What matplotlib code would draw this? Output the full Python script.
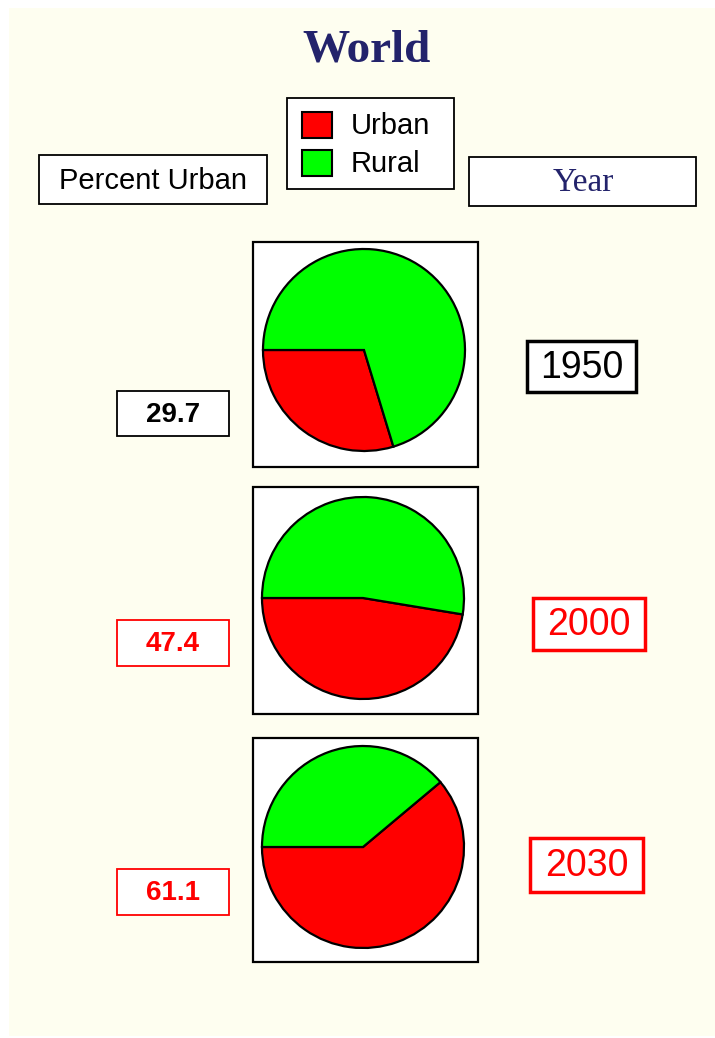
import matplotlib
matplotlib.use("Agg")
import matplotlib.pyplot as plt
from matplotlib.patches import Rectangle

# ---- data ----
years = ["1950", "2000", "2030"]
urban = [29.7, 47.4, 61.1]
rural = [70.3, 52.6, 38.9]
label_colors = ["black", "red", "red"]
slice_colors = ["#ff0000", "#00ff00"]
slice_labels = ["Urban", "Rural"]

W, H = 715, 1038
BG = "#fefef0"
NAVY = "#23236b"
SANS = "Liberation Sans"
SERIF = "Liberation Serif"

fig = plt.figure(figsize=(W / 100, H / 100), dpi=100)
fig.patch.set_facecolor("white")
ax = fig.add_axes([0, 0, 1, 1])
ax.axis("off")


def box(x0, y0, x1, y1, ec="black", lw=1.3, fc="white", z=2):
    ax.add_patch(Rectangle((x0, y0), x1 - x0, y1 - y0, facecolor=fc,
                           edgecolor=ec, linewidth=lw, zorder=z))


# background panel
ax.add_patch(Rectangle((9, 8), W - 9, H - 10, facecolor=BG, edgecolor="none", zorder=0))

# ---- title ----
ax.text(367, 50, "World", ha="center", va="center", fontsize=34,
        fontweight="bold", family=SERIF, color=NAVY)

# ---- header boxes ----
box(39, 155, 267, 204)
ax.text(153, 181, "Percent Urban", ha="center", va="center", fontsize=21, family=SANS)

box(469, 157, 696, 206)
ax.text(583, 183, "Year", ha="center", va="center", fontsize=24, family=SERIF, color=NAVY)

# legend
box(287, 98, 454, 189)
for i, (lab, col) in enumerate(zip(slice_labels, slice_colors)):
    yc = 125 + i * 38
    box(302, yc - 13, 332, yc + 13, fc=col, lw=1.5, z=3)
    ax.text(351, yc + 1, lab, ha="left", va="center", fontsize=21, family=SANS)

# ---- pies ----
pie_cy = [350, 598, 847]
pie_cx = [364, 363, 363]
frame_tops = [242, 487, 738]
frame_bots = [467, 714, 962]
val_boxes = [(391, 436), (620, 666), (869, 915)]
year_boxes = [(527, 341, 636, 392), (533, 598, 645, 650), (530, 838, 643, 892)]

for k in range(len(years)):
    box(253, frame_tops[k], 478, frame_bots[k], lw=1.6)
    wedges, _ = ax.pie([urban[k], rural[k]], colors=slice_colors,
                       startangle=180, counterclock=False,
                       center=(pie_cx[k], pie_cy[k]), radius=101, frame=True,
                       wedgeprops=dict(edgecolor="black", linewidth=1.6))
    for w in wedges:
        w.set_zorder(4)

    col = label_colors[k]
    y0, y1 = val_boxes[k]
    box(117, y0, 229, y1, ec=col, lw=1.3)
    ax.text(173, (y0 + y1) / 2 + 1, f"{urban[k]:.1f}", ha="center", va="center",
            fontsize=20, fontweight="bold", family=SANS, color=col)

    x0, yy0, x1, yy1 = year_boxes[k]
    box(x0, yy0, x1, yy1, ec=col, lw=2.5)
    ax.text((x0 + x1) / 2, (yy0 + yy1) / 2 + 1, years[k], ha="center", va="center",
            fontsize=27, family=SANS, color=col)

ax.set_xlim(0, W)
ax.set_ylim(H, 0)
ax.set_aspect("auto")
ax.axis("off")

fig.savefig("out.png", dpi=100, facecolor=fig.get_facecolor())
